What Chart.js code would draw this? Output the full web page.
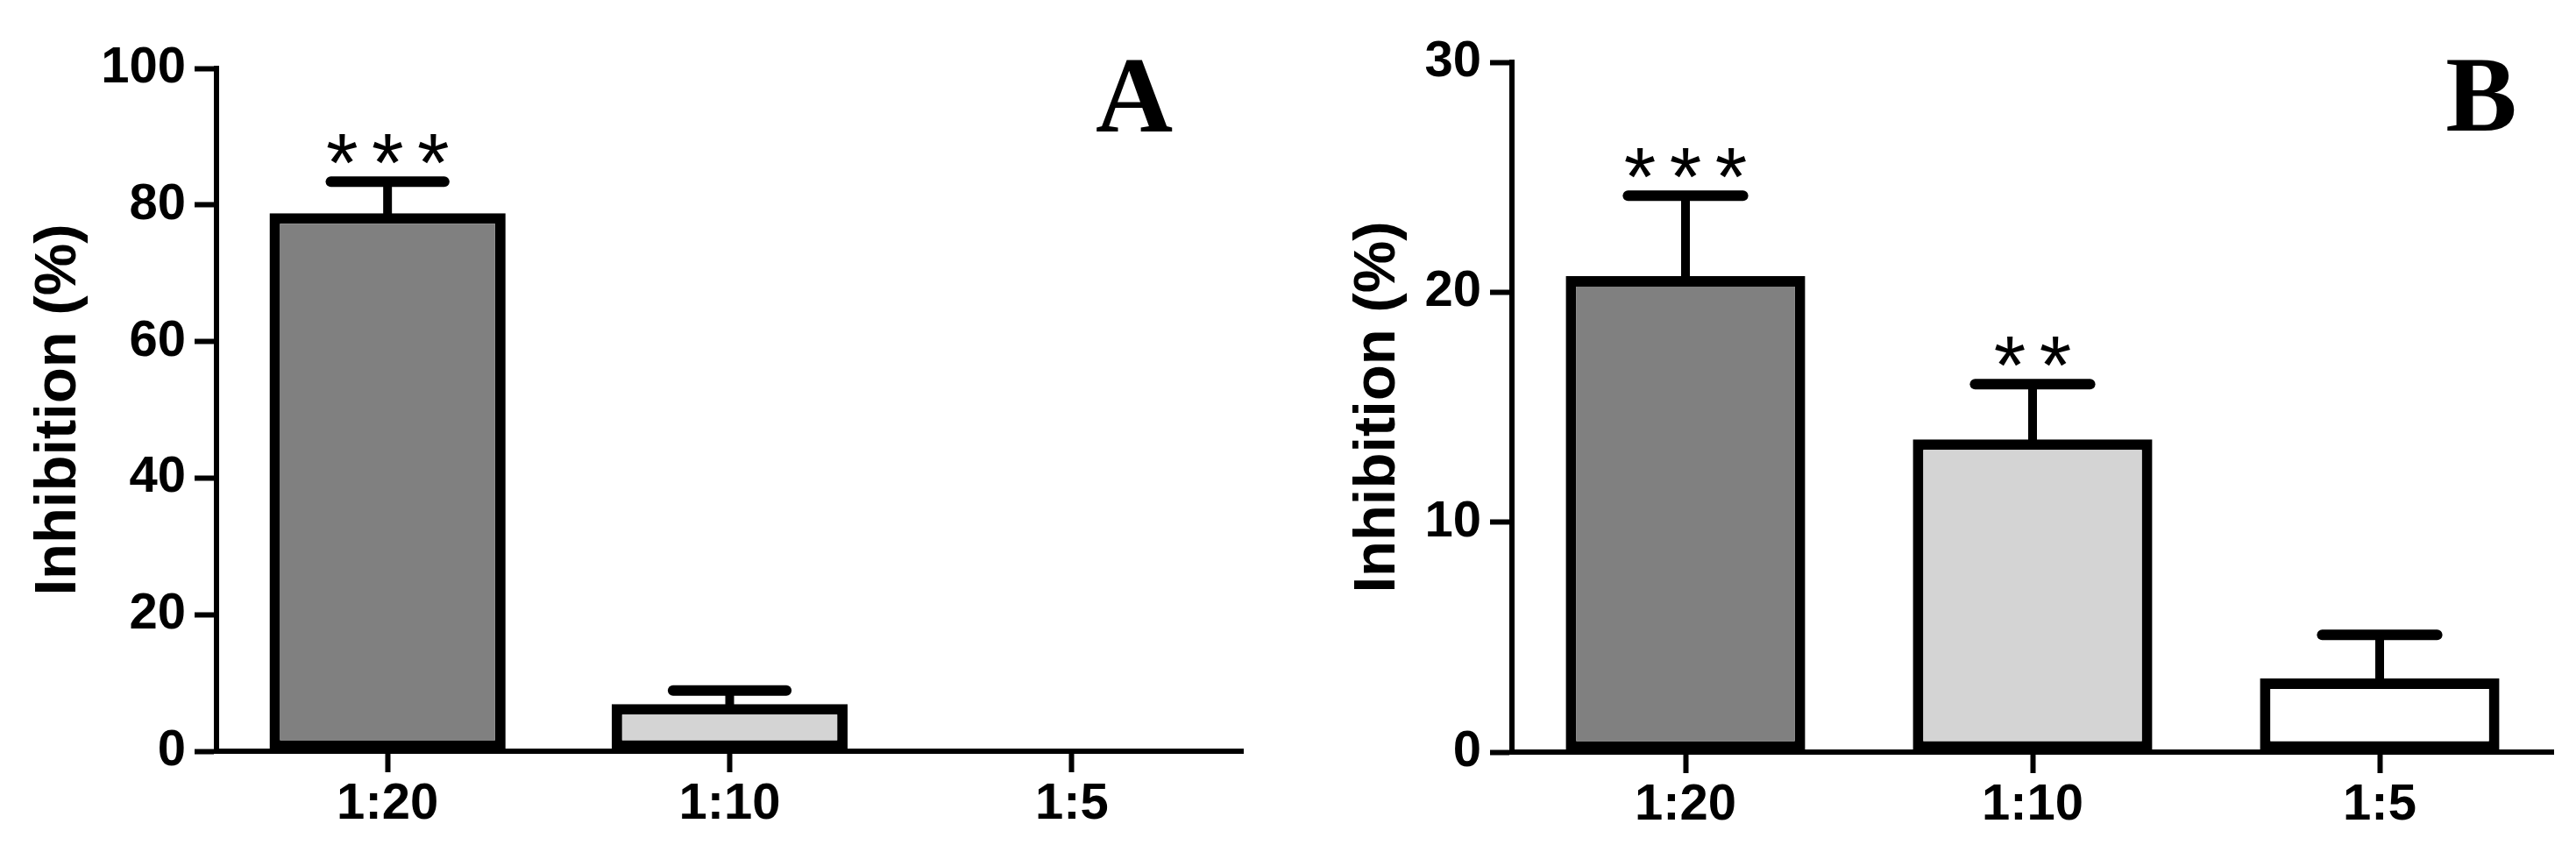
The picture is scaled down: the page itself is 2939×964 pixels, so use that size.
<!DOCTYPE html>
<html>
<head>
<meta charset="utf-8">
<title>Inhibition (%)</title>
<script src="https://cdn.jsdelivr.net/npm/chart.js@4.4.0/dist/chart.umd.min.js"></script>
<style>
    html, body { margin: 0; padding: 0; background: #fff; }
    body { width: 2939px; height: 964px; position: relative; overflow: hidden; }
    .panel { position: absolute; top: 0; height: 964px; }
    #panelA { left: 0; width: 1470px; }
    #panelB { left: 1478px; width: 1461px; }
</style>
</head>
<body>
<div class="panel" id="panelA"><canvas id="chartA"></canvas></div>
<div class="panel" id="panelB"><canvas id="chartB"></canvas></div>
<script>
// Data
const categories = ['1:20', '1:10', '1:5'];

const inhibitionA = [78.8, 6.9, 0];
const semA = [4.6, 2.0, 0];
const starsA = ['***', '', ''];
const ticksA = [0, 20, 40, 60, 80, 100];

const inhibitionB = [20.7, 13.6, 3.2];
const semB = [3.5, 2.4, 1.9];
const starsB = ['***', '**', ''];
const ticksB = [0, 10, 20, 30];

const barFills = ['#808080', '#d4d4d4', '#ffffff'];

const sansFont = '"Liberation Sans", Arial, Helvetica, sans-serif';
const serifFont = '"Liberation Serif", "Times New Roman", serif';

// Draw a text centred on its visible glyph box
function drawCentered(ctx, text, x, y) {
    const m = ctx.measureText(text);
    const asc = m.actualBoundingBoxAscent;
    const desc = m.actualBoundingBoxDescent;
    ctx.fillText(text, x, y + (asc - desc) / 2);
}

/**
 * Error bars (mean + SEM), significance stars and panel letter
 */
const annotationPlugin = {
    id: 'annotations',
    afterDatasetsDraw(chart, args, opts) {
        const ctx = chart.ctx;
        const meta = chart.getDatasetMeta(0);
        const yScale = chart.scales.y;

        ctx.save();
        ctx.strokeStyle = '#000';
        ctx.fillStyle = '#000';
        ctx.textAlign = 'center';
        ctx.textBaseline = 'alphabetic';

        meta.data.forEach((bar, i) => {
            const err = opts.sem[i];
            if (!err) return;
            const yTop = yScale.getPixelForValue(opts.values[i] + err);
            const x = bar.x;
            const half = bar.width * 0.24;

            // stem
            ctx.lineWidth = 10;
            ctx.lineCap = 'butt';
            ctx.beginPath();
            ctx.moveTo(x, bar.y + 6);
            ctx.lineTo(x, yTop);
            ctx.stroke();

            // cap
            ctx.lineWidth = 12;
            ctx.lineCap = 'round';
            ctx.beginPath();
            ctx.moveTo(x - half, yTop);
            ctx.lineTo(x + half, yTop);
            ctx.stroke();

            // stars
            const stars = opts.stars[i];
            if (stars) {
                ctx.font = '94px ' + sansFont;
                const gap = 52;
                const n = stars.length;
                for (let k = 0; k < n; k++) {
                    const sx = x + (k - (n - 1) / 2) * gap;
                    drawCentered(ctx, stars[k], sx, yTop - 37);
                }
            }
        });

        // panel letter
        ctx.font = 'bold 122px ' + serifFont;
        drawCentered(ctx, opts.letter, opts.letterX, opts.letterY);
        ctx.restore();
    }
};

function makePanel(canvasId, values, sem, stars, tickValues, yMax, letter, letterX, letterY, areaTop, xHeight, padRight, titlePad) {
    const ctx = document.getElementById(canvasId);
    return new Chart(ctx, {
        type: 'bar',
        data: {
            labels: categories,
            datasets: [{
                label: 'Inhibition (%)',
                data: values,
                backgroundColor: barFills,
                borderColor: '#000',
                borderWidth: 12,
                borderSkipped: false,
                categoryPercentage: 1,
                barPercentage: 0.69
            }]
        },
        options: {
            responsive: true,
            maintainAspectRatio: false,
            animation: false,
            layout: {
                padding: { top: areaTop, left: 0, right: padRight, bottom: 0 }
            },
            scales: {
                x: {
                    type: 'category',
                    offset: true,
                    afterFit: function(scale) { scale.height = xHeight; },
                    grid: {
                        display: true,
                        offset: false,
                        drawOnChartArea: false,
                        drawTicks: true,
                        tickLength: 24,
                        tickWidth: 6,
                        tickColor: '#000'
                    },
                    border: { display: true, width: 6, color: '#000' },
                    ticks: {
                        color: '#000',
                        padding: 2,
                        font: { family: sansFont, size: 58, weight: 'bold' }
                    }
                },
                y: {
                    min: 0,
                    max: yMax,
                    afterFit: function(scale) { scale.width = 247; },
                    afterBuildTicks: function(scale) {
                        scale.ticks = tickValues.map(v => ({ value: v }));
                    },
                    grid: {
                        display: true,
                        drawOnChartArea: false,
                        drawTicks: true,
                        tickLength: 25,
                        tickWidth: 6,
                        tickColor: '#000'
                    },
                    border: { display: true, width: 6, color: '#000' },
                    ticks: {
                        color: '#000',
                        padding: 10,
                        font: { family: sansFont, size: 58, weight: 'bold' }
                    },
                    title: {
                        display: true,
                        text: 'Inhibition (%)',
                        color: '#000',
                        font: { family: sansFont, size: 67, weight: 'bold' },
                        padding: { top: titlePad, bottom: 0 }
                    }
                }
            },
            plugins: {
                legend: { display: false },
                tooltip: { enabled: false },
                annotations: {
                    values: values,
                    sem: sem,
                    stars: stars,
                    letter: letter,
                    letterX: letterX,
                    letterY: letterY
                }
            }
        },
        plugins: [annotationPlugin]
    });
}

makePanel('chartA', inhibitionA, semA, starsA, ticksA, 100, 'A', 1294, 109, 78, 107, 52, 27);
makePanel('chartB', inhibitionB, semB, starsB, ticksB, 30, 'B', 1353, 108, 71, 106, 26, 54);
</script>
</body>
</html>
